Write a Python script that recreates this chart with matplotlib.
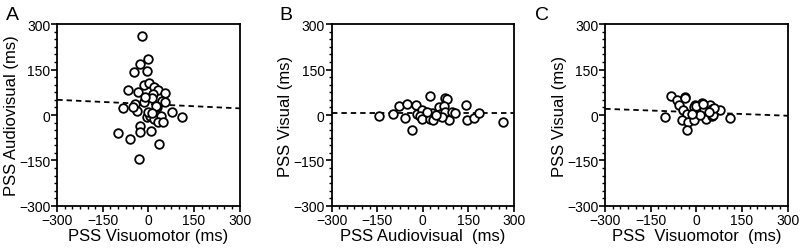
import numpy as np
import matplotlib
matplotlib.use("Agg")
import matplotlib.pyplot as plt
from matplotlib.ticker import MultipleLocator

plt.rcParams['font.family'] = ['Liberation Sans', 'DejaVu Sans']

# panel A: visuomotor (x) vs audiovisual (y)
a_x = [-22, -2, -27, -46, -5, -16, 3, 19, -66, -35, 33, 55, 16, 46, -16, 11, -44, 27,
       -38, -82, 55, 77, 110, -5, 6, 20, 40, 30, 47, -27, -27, 8, -101, -60, 36, -31,
       -10, 25, -50, 0, 12]
a_y = [262, 185, 168, 141, 146, 99, 104, 91, 82, 75, 83, 71, 69, 47, 42, 55, 36, 25,
       14, 22, 42, 9, -5, -5, -2, -13, -2, -24, -22, -35, -57, -54, -59, -79, -96, -145,
       60, 30, 25, 10, 5]
a_fit = [36, -0.047]  # intercept, slope

# panel B: audiovisual (x) vs visual (y)
b_x = [-144, -97, -78, -53, -58, -36, -22, -20, -1, -9, -3, 24, 30, 24, 35, 52, 57,
       74, 81, 70, 74, 85, 96, 107, 143, 147, 167, 186, 264, 13, 63, 45]
b_y = [-4, 2, 29, 35, -9, -51, 34, 4, 15, -4, -12, 64, 7, -12, -18, 26, 4, 56, 53,
       31, 10, -16, 10, 7, 34, -15, -9, 7, -23, 10, -7, -1]
b_fit = [7, 0.0]

# panel C: visuomotor (x) vs visual (y)
c_x = [-83, -64, -39, -56, -103, -44, -31, -47, -26, -31, -9, -3, 19, 4, 24, 30, 46,
       52, 44, 77, 109, -9, 52, -36, -7, 13, 55, 57, 41, -14, 0, 22]
c_y = [64, 50, 59, 32, -6, 15, 4, -18, -23, -51, -1, 32, 41, 16, 16, -14, 32, 21, 10,
       16, -10, -17, -4, 56, 26, 1, 1, 22, 10, 2, 31, 37]
c_fit = [9, -0.038]

letters = ['A', 'B', 'C']
xlabels = ['PSS Visuomotor (ms)', 'PSS Audiovisual  (ms)', 'PSS  Visuomotor  (ms)']
ylabels = ['PSS Audiovisual (ms)', 'PSS Visual (ms)', 'PSS Visual (ms)']
ticks = [-300, -150, 0, 150, 300]

fig = plt.figure(figsize=(8, 2.53), dpi=100)
lefts = [0.0715, 0.4145, 0.7565]
letter_x = [12, 286, 542]
xs = [a_x, b_x, c_x]
ys = [a_y, b_y, c_y]
fits = [a_fit, b_fit, c_fit]

for i in range(3):
    ax = fig.add_axes([lefts[i], 0.182, 0.228, 0.719])
    line_x = np.array([-300, 300])
    ax.plot(line_x, fits[i][0] + fits[i][1] * line_x, color='black', lw=1.3,
            dashes=(3, 2.2), zorder=1)
    ax.plot(xs[i], ys[i], 'o', mfc='white', mec='black', mew=1.3, ms=6.2, zorder=2)
    ax.set_xlim(-300, 300); ax.set_ylim(-300, 300)
    ax.set_xticks(ticks); ax.set_yticks(ticks)
    ax.xaxis.set_minor_locator(MultipleLocator(25))
    ax.yaxis.set_minor_locator(MultipleLocator(25))
    ax.tick_params(which='major', direction='out', length=4, width=1.2, labelsize=10, pad=1)
    ax.tick_params(which='minor', direction='out', length=2, width=1.0)
    for s in ax.spines.values():
        s.set_linewidth(1.3)
    ax.set_xlabel(xlabels[i], fontsize=12, labelpad=1)
    ax.set_ylabel(ylabels[i], fontsize=12, labelpad=0)
    fig.text(letter_x[i] / 800, 1 - 15 / 253, letters[i], fontsize=14, ha='center', va='center')

fig.savefig('out.png', dpi=100)
